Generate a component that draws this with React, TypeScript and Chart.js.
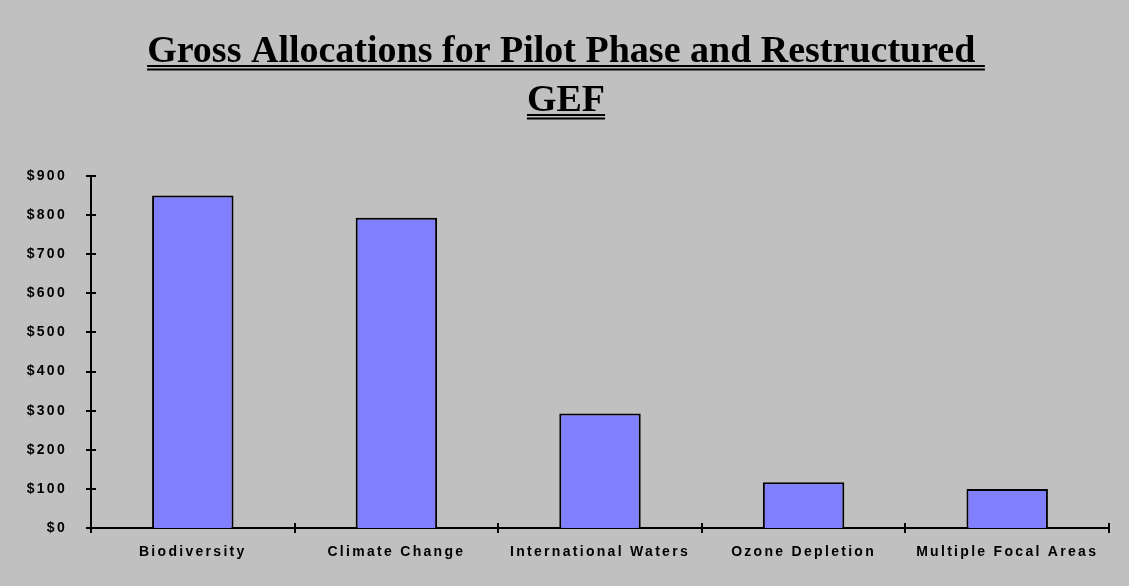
import React, { useEffect, useRef } from "react";
import { Chart, registerables } from "chart.js";

Chart.register(...registerables);

const titleLines = ["Gross Allocations for Pilot Phase and Restructured ", "GEF"];
const categories = ["Biodiversity", "Climate Change", "International Waters", "Ozone Depletion", "Multiple Focal Areas"];
const allocations = [850, 793, 293, 117, 100];
const yTickValues = [0, 100, 200, 300, 400, 500, 600, 700, 800, 900];

const BG = "#C0C0C0";

const spacingPlugin = {
  id: "spacing",
  beforeUpdate(chart: any) {
    chart.ctx.letterSpacing = "2.3px";
  },
  beforeDraw(chart: any) {
    const ctx = chart.ctx;
    ctx.save();
    ctx.fillStyle = BG;
    ctx.fillRect(0, 0, chart.width, chart.height);
    ctx.restore();
    ctx.letterSpacing = "2.3px";
  },
};

const ticksPlugin = {
  id: "crossTicks",
  afterDatasetsDraw(chart: any) {
    const ctx = chart.ctx;
    const x = chart.scales.x;
    const y = chart.scales.y;
    const area = chart.chartArea;
    ctx.save();
    ctx.strokeStyle = "#000";
    ctx.lineWidth = 2;
    ctx.beginPath();
    y.ticks.forEach((_t: any, i: number) => {
      const py = Math.round(y.getPixelForTick(i));
      ctx.moveTo(area.left - 5, py);
      ctx.lineTo(area.left + 5, py);
    });
    const n = chart.data.labels.length;
    for (let i = 0; i <= n; i++) {
      const px = Math.round(x.getPixelForValue(i - 0.5));
      ctx.moveTo(px, area.bottom - 5);
      ctx.lineTo(px, area.bottom + 5);
    }
    ctx.stroke();
    ctx.restore();
  },
};

const titlePlugin = {
  id: "ulTitle",
  afterDraw(chart: any) {
    const ctx = chart.ctx;
    ctx.save();
    ctx.letterSpacing = "0px";
    ctx.font = "bold 38px 'Liberation Serif', 'Times New Roman', serif";
    ctx.fillStyle = "#000";
    ctx.textAlign = "left";
    ctx.textBaseline = "alphabetic";
    const cx = 566;
    const baselines = [62, 111];
    titleLines.forEach((line, i) => {
      const w = ctx.measureText(line).width;
      const lx = cx - w / 2;
      const by = baselines[i];
      ctx.fillText(line, lx, by);
      ctx.fillRect(lx, by + 3, w, 2);
      ctx.fillRect(lx, by + 6.5, w, 2);
    });
    ctx.restore();
  },
};

export default function App() {
  const canvasRef = useRef<HTMLCanvasElement | null>(null);

  useEffect(() => {
    if (!canvasRef.current) return;
    const chart = new Chart(canvasRef.current, {
      type: "bar",
      data: {
        labels: categories,
        datasets: [
          {
            data: allocations,
            backgroundColor: "#8080FF",
            borderColor: "#000000",
            borderWidth: 2,
            categoryPercentage: 1,
            barPercentage: 0.4,
          },
        ],
      },
      options: {
        animation: false,
        responsive: false,
        maintainAspectRatio: false,
        layout: { padding: { top: 176, right: 20, left: 0, bottom: 0 } },
        plugins: {
          legend: { display: false },
          title: { display: false },
          tooltip: { enabled: false },
        },
        scales: {
          x: {
            offset: true,
            grid: { display: false, drawTicks: false },
            border: { display: true, color: "#000", width: 2 },
            ticks: {
              color: "#000",
              padding: 16,
              maxRotation: 0,
              autoSkip: false,
              font: { family: "'Liberation Sans', Arial, sans-serif", size: 14, weight: "bold" },
            },
            afterFit(scale: any) {
              scale.height = 58;
            },
          },
          y: {
            min: 0,
            max: 900,
            afterBuildTicks(scale: any) {
              scale.ticks = yTickValues.map((v) => ({ value: v }));
            },
            grid: { display: false, drawTicks: false },
            border: { display: true, color: "#000", width: 2 },
            ticks: {
              color: "#000",
              padding: 24,
              font: { family: "'Liberation Sans', Arial, sans-serif", size: 14, weight: "bold" },
              callback: (v: any) => "$" + v,
            },
            afterFit(scale: any) {
              scale.width = 91;
            },
          },
        },
      },
      plugins: [spacingPlugin, ticksPlugin, titlePlugin],
    });
    return () => chart.destroy();
  }, []);

  return (
    <div style={{ position: "fixed", left: 0, top: 0, width: 1129, height: 586, background: BG }}>
      <canvas ref={canvasRef} width={1129} height={586} style={{ display: "block", width: 1129, height: 586 }} />
    </div>
  );
}
